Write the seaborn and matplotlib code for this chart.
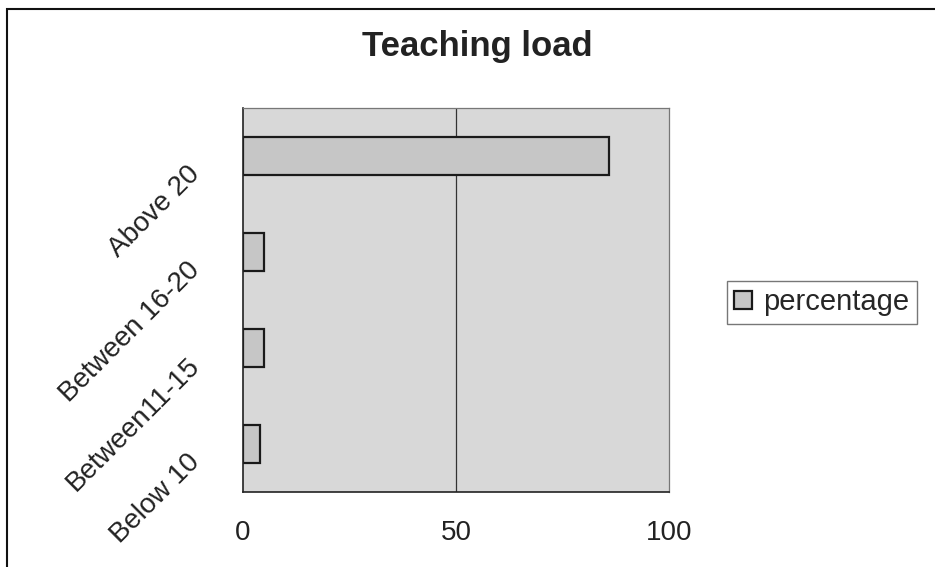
import matplotlib
matplotlib.use("Agg")
import matplotlib.pyplot as plt
from matplotlib.patches import Rectangle
from matplotlib.transforms import ScaledTranslation
import seaborn as sns
import pandas as pd

categories = ["Above 20", "Between 16-20", "Between11-15", "Below 10"]
percentage = [86, 5, 5, 4]
x_ticks = [0, 50, 100]

sns.set_style("white")
plt.rcParams["font.family"] = ["Liberation Sans", "DejaVu Sans"]

df = pd.DataFrame({"category": categories, "percentage": percentage})

fig = plt.figure(figsize=(9.35, 5.67), dpi=100)
ax = fig.add_axes([0.26, 0.132, 0.4556, 0.6775])
ax.set_facecolor("#d8d8d8")

sns.barplot(data=df, x="percentage", y="category", orient="h",
            color="#c6c6c6", edgecolor="#1a1a1a", linewidth=1.6,
            width=0.4, saturation=1, label="percentage", ax=ax)

ax.set_xlim(0, 100)
ax.set_ylim(len(categories) - 0.5, -0.5)
ax.set_xticks(x_ticks)
ax.set_xticklabels([str(t) for t in x_ticks], fontsize=20, color="#222222")
ax.tick_params(axis="x", length=5, width=1, color="#444444", pad=15, direction="out")
ax.set_xlabel("")
ax.set_ylabel("")

# category ticks sit between the bars
ax.set_yticks(range(len(categories)))
ax.set_yticks([i - 0.5 for i in range(len(categories) + 1)], minor=True)
ax.tick_params(axis="y", which="major", length=0, pad=34)
ax.tick_params(axis="y", which="minor", length=6, width=1, color="#444444", direction="out")
ax.set_yticklabels(categories, fontsize=20, color="#222222",
                   rotation=45, ha="right", va="center", rotation_mode="anchor")
for lbl in ax.get_yticklabels():
    lbl.set_transform(lbl.get_transform() + ScaledTranslation(0, -0.14, fig.dpi_scale_trans))

ax.axvline(50, color="#333333", linewidth=0.9, zorder=0.5)
for side in ["left", "bottom"]:
    ax.spines[side].set_color("#222222")
    ax.spines[side].set_linewidth(1.2)
for side in ["top", "right"]:
    ax.spines[side].set_color("#777777")
    ax.spines[side].set_linewidth(0.9)

fig.text(0.51, 0.918, "Teaching load", ha="center", va="center",
         fontsize=25, fontweight="bold", color="#222222")

ax.legend(loc="center left", bbox_to_anchor=(727 / 935, 0.467),
          bbox_transform=fig.transFigure, fontsize=21, frameon=True,
          fancybox=False, edgecolor="#555555", handlelength=0.6,
          handleheight=0.6, handletextpad=0.4, borderpad=0.25,
          borderaxespad=0)

# outer chart border
fig.patches.append(Rectangle((0.008, -0.02), 1.2, 1.004, transform=fig.transFigure,
                             fill=False, edgecolor="#111111", linewidth=1.5))

fig.savefig("out.png", dpi=100)
